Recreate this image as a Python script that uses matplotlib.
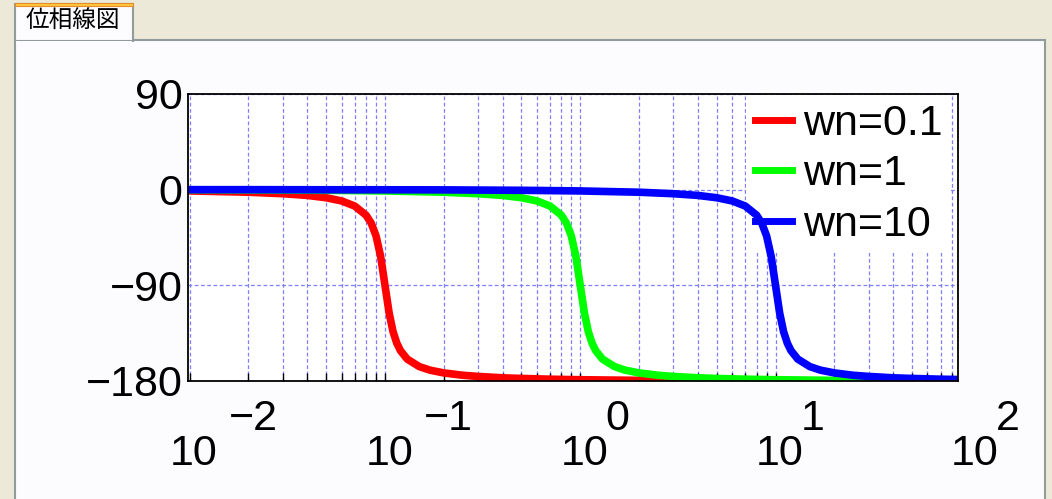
import matplotlib.pyplot as plt
from matplotlib.patches import Rectangle

plt.rcParams['font.family'] = ['Liberation Sans', 'DejaVu Sans']

# phase (deg)
freq_01 = [0.01, 0.02, 0.03, 0.04, 0.05, 0.06, 0.07, 0.08, 0.085, 0.09, 0.095, 0.1,
           0.105, 0.11, 0.115, 0.12, 0.13, 0.15, 0.17, 0.2, 0.25, 0.3, 0.4, 0.5,
           0.7, 1, 2, 5, 10, 100]
phase_01 = [-1.2, -2.4, -3.8, -5.4, -7.6, -10.6, -15.4, -24.0, -31.5, -43.5, -62.8, -90,
            -116.0, -133.7, -144.5, -151.4, -159.4, -166.5, -169.8, -172.4, -174.6, -175.7, -177.0, -177.6,
            -178.3, -178.8, -179.4, -179.8, -179.9, -180.0]

freq_1 = [0.01, 0.02, 0.05, 0.1, 0.2, 0.3, 0.4, 0.5, 0.6, 0.7, 0.8, 0.85, 0.9, 0.95, 1,
          1.05, 1.1, 1.15, 1.2, 1.3, 1.5, 1.7, 2, 2.5, 3, 4, 5, 7, 10, 20, 50, 100]
phase_1 = [-0.1, -0.2, -0.6, -1.2, -2.4, -3.8, -5.4, -7.6, -10.6, -15.4, -24.0, -31.5, -43.5, -62.8, -90,
           -116.0, -133.7, -144.5, -151.4, -159.4, -166.5, -169.8, -172.4, -174.6, -175.7, -177.0, -177.6,
           -178.3, -178.8, -179.4, -179.8, -179.9]

freq_10 = [0.01, 0.02, 0.05, 0.1, 0.2, 0.5, 1, 2, 3, 4, 5, 6, 7, 8, 8.5, 9, 9.5, 10,
           10.5, 11, 11.5, 12, 13, 15, 17, 20, 25, 30, 40, 50, 70, 100]
phase_10 = [0, 0, -0.1, -0.1, -0.2, -0.6, -1.2, -2.4, -3.8, -5.4, -7.6, -10.6, -15.4, -24.0, -31.5, -43.5, -62.8, -90,
            -116.0, -133.7, -144.5, -151.4, -159.4, -166.5, -169.8, -172.4, -174.6, -175.7, -177.0, -177.6,
            -178.3, -178.8]

labels = ['wn=0.1', 'wn=1', 'wn=10']
colors = ['#ff0000', '#00ff00', '#0000ff']
yticks = [-180, -90, 0, 90]
xtick_exp = [-2, -1, 0, 1, 2]

W, H = 1052, 499
fig = plt.figure(figsize=(W / 100, H / 100), dpi=100)
fig.patch.set_facecolor('#ece9d8')


def px_rect(x0, y0, x1, y1, **kw):
    r = Rectangle((x0 / W, 1 - y1 / H), (x1 - x0) / W, (y1 - y0) / H,
                  transform=fig.transFigure, zorder=-10, **kw)
    fig.patches.append(r)


# tab panel + tab
px_rect(15, 40, 1045, 520, facecolor='#fcfcfe', edgecolor='#919b9c', lw=1.5)
px_rect(15, 4, 133, 41, facecolor='#fcfcfe', edgecolor='#919b9c', lw=1.5)
px_rect(16, 41, 132, 43, facecolor='#fcfcfe', edgecolor='none')
px_rect(15, 3, 133, 6, facecolor='#ffc83c', edgecolor='#e68b2c', lw=0.8)
fig.text(73 / W, 1 - 21 / H, '位相線図', family=['Noto Sans CJK JP', 'DejaVu Sans'],
         fontsize=17, ha='center', va='center')

ax = fig.add_axes([188 / W, 1 - 381 / H, 770 / W, 287 / H])
ax.set_facecolor('white')

ax.plot(freq_01, phase_01, color=colors[0], lw=5.5, label=labels[0])
ax.plot(freq_1, phase_1, color=colors[1], lw=5.5, label=labels[1])
ax.plot(freq_10, phase_10, color=colors[2], lw=5.5, label=labels[2])

ax.set_xscale('log')
ax.set_xlim(0.0098, 86)
ax.set_ylim(-180, 90)
ax.set_yticks(yticks)
ax.set_yticklabels([str(v).replace('-', '\u2212') for v in yticks], fontsize=31)
ax.tick_params(axis='both', which='both', direction='in', length=6, width=1,
               labelbottom=False, pad=4)
ax.tick_params(axis='y', which='major', length=0)

ax.grid(True, which='both', axis='x', color='#7f7fff', lw=0.9, ls=(0, (3, 2)))
ax.grid(True, which='major', axis='y', color='#7f7fff', lw=0.9, ls=(0, (3, 2)))
for s in ax.spines.values():
    s.set_linewidth(1.3)

for e in xtick_exp:
    x = 10.0 ** e
    ax.annotate('10', xy=(x, 0), xycoords=('data', 'axes fraction'),
                xytext=(3, -60.5), textcoords='offset points',
                ha='center', va='baseline', fontsize=31, annotation_clip=False)
    dx = 28 if e < 0 else 18
    ax.annotate(str(e).replace('-', '\u2212'), xy=(x, 0), xycoords=('data', 'axes fraction'),
                xytext=(dx, -35.3), textcoords='offset points',
                ha='left', va='baseline', fontsize=31, annotation_clip=False)

leg = ax.legend(loc='upper left', bbox_to_anchor=(0.725, 0.995), borderaxespad=0,
                fontsize=31, handlelength=0.87, handletextpad=0.25, labelspacing=0.24,
                borderpad=0.2, frameon=True, fancybox=False)
leg.get_frame().set_edgecolor('none')
leg.get_frame().set_alpha(1)
leg.set_zorder(1.8)
for line in leg.get_lines():
    line.set_linewidth(5)

fig.savefig('out.png', dpi=100, facecolor=fig.get_facecolor())
